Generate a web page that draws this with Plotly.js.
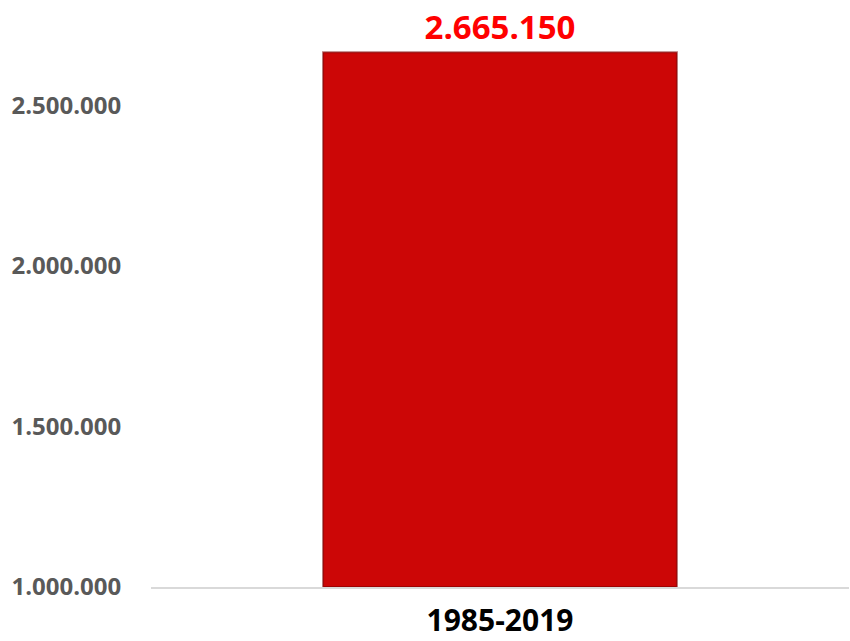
<!DOCTYPE html>
<html>
<head>
<meta charset="utf-8">
<script src="https://cdn.plot.ly/plotly-3.0.1.min.js"></script>
<style>html,body{margin:0;padding:0;background:#fff;}#chart{width:850px;height:641px;}</style>
</head>
<body>
<div id="chart"></div>
<script>
var categories = ["1985-2019"];
var values = [2665150];
var axisBase = 1000000;
var tickValues = [1000000, 1500000, 2000000, 2500000];
var tickLabels = ["1.000.000", "1.500.000", "2.000.000", "2.500.000"];
var dataLabels = ["2.665.150"];

var trace = {
  type: "bar",
  x: categories,
  y: values.map(function(v){ return v - axisBase; }),
  base: axisBase,
  width: 0.507,
  marker: {color: "#cc0606", line: {color: "rgba(120,0,0,0.55)", width: 2}},
  text: dataLabels,
  textposition: "outside",
  texttemplate: "%{text}",
  textfont: {family: "Open Sans", size: 33, color: "#ff0000", weight: "bold"},
  cliponaxis: false,
  hoverinfo: "none"
};

var layout = {
  width: 850, height: 641,
  margin: {l: 151, r: 1, t: 9, b: 54},
  paper_bgcolor: "#fff", plot_bgcolor: "#fff",
  showlegend: false,
  font: {family: "Open Sans"},
  xaxis: {
    showline: true, linecolor: "#d9d9d9", linewidth: 2,
    showgrid: false, zeroline: false,
    ticks: "outside", ticklen: 6, tickcolor: "rgba(0,0,0,0)",
    tickfont: {family: "Open Sans", size: 30, color: "#000", weight: "bold"},
    fixedrange: true
  },
  yaxis: {
    range: [1000000, 2800000],
    tickvals: tickValues, ticktext: tickLabels,
    showgrid: false, zeroline: false, showline: false,
    ticks: "outside", ticklen: 24, tickcolor: "rgba(0,0,0,0)",
    tickfont: {family: "Open Sans", size: 24, color: "#595959", weight: "bold"},
    fixedrange: true
  }
};
Plotly.newPlot("chart", [trace], layout, {displayModeBar: false, staticPlot: true});
</script>
</body>
</html>
